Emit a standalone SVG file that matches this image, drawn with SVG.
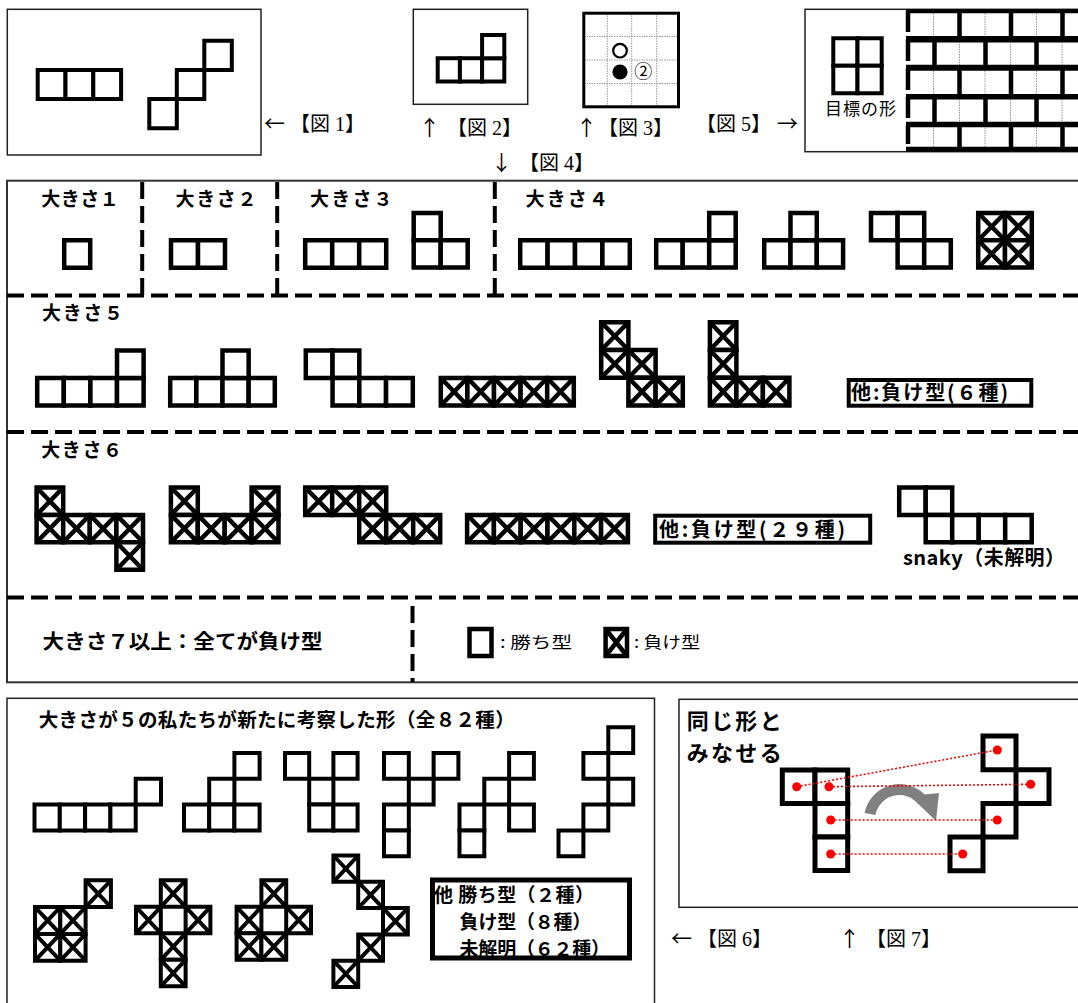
<svg xmlns="http://www.w3.org/2000/svg" width="1078" height="1003" viewBox="0 0 1078 1003">
<style>
text{font-family:"Noto Sans CJK JP","Noto Sans",sans-serif;fill:#000}
.b{font-weight:700}
.fig{font-family:"Liberation Serif","Noto Sans CJK JP",serif;font-size:20px}
.ar{font-family:"Noto Sans CJK JP",sans-serif;font-size:21px}
.cells{fill:#fff;stroke:#000;stroke-width:4.5}
.c4{stroke-width:4}
.c5{stroke-width:5}
.frame{fill:none;stroke:#222;stroke-width:1.5}
.dash{fill:none;stroke:#000;stroke-width:4;stroke-dasharray:17 7}
.dot{fill:none;stroke:#999;stroke-width:1;stroke-dasharray:1.5 1}
.bar{stroke:#000;fill:none}
.red{fill:none;stroke:#f00;stroke-width:1.6;stroke-dasharray:2 2}
</style>
<defs>
<rect id="w" width="1" height="1" vector-effect="non-scaling-stroke"/>
<g id="x"><rect width="1" height="1" vector-effect="non-scaling-stroke"/><path d="M0,0L1,1M1,0L0,1" vector-effect="non-scaling-stroke"/></g>
</defs>
<rect width="1078" height="1003" fill="#fff"/>

<g id="fig1">
<rect class="frame" x="7.3" y="9.3" width="253.7" height="145.7"/>
<g class="cells c4" transform="translate(37.7,70) scale(27.8,29)"><use href="#w"/><use href="#w" x="1"/><use href="#w" x="2"/></g>
<g class="cells c4" transform="translate(149.3,40.7) scale(27.5,29.2)"><use href="#w" x="2" y="0"/><use href="#w" x="1" y="1"/><use href="#w" x="0" y="2"/></g>
<text class="ar" x="264" y="131">←</text>
<text class="fig" x="290" y="131">【図 1】</text>
</g>

<g id="fig2">
<rect class="frame" x="413.3" y="9.3" width="114.4" height="95"/>
<g class="cells c4" transform="translate(437.7,35) scale(22.2,23.3)"><use href="#w" y="1"/><use href="#w" x="1" y="1"/><use href="#w" x="2" y="1"/><use href="#w" x="2" y="0"/></g>
<text class="ar" x="419" y="135">↑</text>
<text class="fig" x="447" y="135">【図 2】</text>
</g>

<g id="fig3">
<path class="dot" d="M607.3,13V107M631.7,13V107M656.7,13V107M584,36.5H678M584,60H678M584,83.5H678"/>
<rect x="583.8" y="13.2" width="94.7" height="93.6" fill="none" stroke="#000" stroke-width="3"/>
<circle cx="620" cy="50.7" r="6.8" fill="#fff" stroke="#000" stroke-width="2.2"/>
<circle cx="620" cy="72" r="7.6" fill="#000"/>
<text x="643.3" y="77.5" font-size="18" text-anchor="middle">②</text>
<text class="ar" x="576" y="135">↑</text>
<text class="fig" x="598" y="135">【図 3】</text>
</g>

<g id="fig5">
<rect class="frame" x="805" y="9.3" width="290" height="142.4"/>
<g class="cells c4" transform="translate(833.3,38.3) scale(24.2,27.5)"><use href="#w"/><use href="#w" x="1"/><use href="#w" y="1"/><use href="#w" x="1" y="1"/></g>
<text x="825" y="115" font-size="17" textLength="71">目標の形</text>
<path class="dot" d="M933.5,11V40M985,11V40M1036.5,11V40M959.5,39V68M1010.5,39V68M1062,39V68M933.5,68V97M985,68V97M1036.5,68V97M959.5,97V125M1010.5,97V125M1062,97V125M933.5,125V149M985,125V149M1036.5,125V149"/>
<path class="bar" stroke-width="4.5" d="M959.5,11V40M1011,11V40M1062.5,11V40M934.5,39V68M985.5,39V68M1036.5,39V68M959.5,68V97M1011,68V97M1062.5,68V97M934.5,97V125M985.5,97V125M1036.5,97V125M959.5,125V149M1011,125V149M1062.5,125V149"/>
<path class="bar" stroke-width="4.5" d="M908,11V32M908,39V61M908,68V90M908,97V118M908,125V144"/>
<path class="bar" stroke-width="4" d="M906,11.3H1078"/>
<path class="bar" stroke-width="6.5" d="M906,39.3H1078"/>
<path class="bar" stroke-width="6" d="M906,67.8H1078"/>
<path class="bar" stroke-width="5.5" d="M906,96.7H1078M906,124.5H1078"/>
<path class="bar" stroke-width="5" d="M906,149.2H1078"/>
<text class="fig" x="696" y="131">【図 5】</text>
<text class="ar" x="777" y="131">→</text>
</g>

<g id="fig4label">
<text class="ar" x="491" y="170">↓</text>
<text class="fig" x="519" y="170">【図 4】</text>
</g>

<g id="fig4">
<rect x="7" y="180.7" width="1090" height="501.6" fill="none" stroke="#333" stroke-width="2"/>
<path class="dash" d="M7,295.5H1078M7,432H1078M7,597.5H1078M142.2,182V295.5M277.2,182V295.5M494.8,182V295.5M412.5,606V682"/>
<g class="b" font-size="19">
<text x="41.3" y="206" textLength="77.5">大きさ１</text>
<text x="175.6" y="206" textLength="80.9">大きさ２</text>
<text x="310" y="206" textLength="82.6">大きさ３</text>
<text x="525.6" y="206" textLength="82.4">大きさ４</text>
<text x="42" y="320" textLength="81">大きさ５</text>
<text x="41.3" y="457" textLength="80.7">大きさ６</text>
</g>
<g class="cells">
<g transform="translate(64.2,240.2) scale(26,27.5)"><use href="#w"/></g>
<g transform="translate(171,240.2) scale(27,27.5)"><use href="#w"/><use href="#w" x="1"/></g>
<g transform="translate(305.2,240.2) scale(27,27.5)"><use href="#w"/><use href="#w" x="1"/><use href="#w" x="2"/></g>
<g transform="translate(413.7,213) scale(27,27.25)"><use href="#w"/><use href="#w" y="1"/><use href="#w" x="1" y="1"/></g>
<g transform="translate(520.2,240.2) scale(27.4,27.5)"><use href="#w"/><use href="#w" x="1"/><use href="#w" x="2"/><use href="#w" x="3"/></g>
<g transform="translate(656.2,213) scale(26.5,27.25)"><use href="#w" y="1"/><use href="#w" x="1" y="1"/><use href="#w" x="2" y="1"/><use href="#w" x="2"/></g>
<g transform="translate(764.2,213) scale(26.3,27.25)"><use href="#w" y="1"/><use href="#w" x="1" y="1"/><use href="#w" x="2" y="1"/><use href="#w" x="1"/></g>
<g transform="translate(871,213) scale(26.6,27.25)"><use href="#w"/><use href="#w" x="1"/><use href="#w" x="1" y="1"/><use href="#w" x="2" y="1"/></g>
<g transform="translate(978.2,213) scale(26.8,27.25)"><use href="#x"/><use href="#x" x="1"/><use href="#x" y="1"/><use href="#x" x="1" y="1"/></g>

<g transform="translate(37.2,350.5) scale(26.6,27.5)"><use href="#w" y="1"/><use href="#w" x="1" y="1"/><use href="#w" x="2" y="1"/><use href="#w" x="3" y="1"/><use href="#w" x="3"/></g>
<g transform="translate(170.2,350.5) scale(26.15,27.5)"><use href="#w" y="1"/><use href="#w" x="1" y="1"/><use href="#w" x="2" y="1"/><use href="#w" x="3" y="1"/><use href="#w" x="2"/></g>
<g transform="translate(305.8,350.5) scale(26.75,27.5)"><use href="#w"/><use href="#w" x="1"/><use href="#w" x="1" y="1"/><use href="#w" x="2" y="1"/><use href="#w" x="3" y="1"/></g>
<g transform="translate(440.8,378) scale(26.6,27.5)"><use href="#x"/><use href="#x" x="1"/><use href="#x" x="2"/><use href="#x" x="3"/><use href="#x" x="4"/></g>
<g transform="translate(601.2,322.2) scale(27.2,27.8)"><use href="#x"/><use href="#x" y="1"/><use href="#x" x="1" y="1"/><use href="#x" x="1" y="2"/><use href="#x" x="2" y="2"/></g>
<g transform="translate(709.9,322.2) scale(26.5,27.8)"><use href="#x"/><use href="#x" y="1"/><use href="#x" y="2"/><use href="#x" x="1" y="2"/><use href="#x" x="2" y="2"/></g>

<g transform="translate(36.6,487.5) scale(26.6,27.4)"><use href="#x"/><use href="#x" y="1"/><use href="#x" x="1" y="1"/><use href="#x" x="2" y="1"/><use href="#x" x="3" y="1"/><use href="#x" x="3" y="2"/></g>
<g transform="translate(170.9,487.5) scale(26.9,27.4)"><use href="#x"/><use href="#x" x="3"/><use href="#x" y="1"/><use href="#x" x="1" y="1"/><use href="#x" x="2" y="1"/><use href="#x" x="3" y="1"/></g>
<g transform="translate(305.2,487.5) scale(27,27.4)"><use href="#x"/><use href="#x" x="1"/><use href="#x" x="2"/><use href="#x" x="2" y="1"/><use href="#x" x="3" y="1"/><use href="#x" x="4" y="1"/></g>
<g transform="translate(467.1,514.9) scale(26.8,27.4)"><use href="#x"/><use href="#x" x="1"/><use href="#x" x="2"/><use href="#x" x="3"/><use href="#x" x="4"/><use href="#x" x="5"/></g>
<g transform="translate(899.2,487.5) scale(26.5,27.4)"><use href="#w"/><use href="#w" x="1"/><use href="#w" x="1" y="1"/><use href="#w" x="2" y="1"/><use href="#w" x="3" y="1"/><use href="#w" x="4" y="1"/></g>
</g>
<rect x="848.7" y="380" width="182.6" height="25.7" fill="none" stroke="#000" stroke-width="4"/>
<text class="b" x="851" y="400" font-size="20" textLength="157">他:負け型(６種)</text>
<rect x="655.2" y="515.7" width="215" height="27" fill="none" stroke="#000" stroke-width="4"/>
<text class="b" x="659" y="536.5" font-size="20" textLength="186">他:負け型(２９種)</text>
<text class="b" x="903" y="565" font-size="20" textLength="162">snaky（未解明）</text>
<text class="b" x="42.6" y="649" font-size="20" textLength="280" lengthAdjust="spacingAndGlyphs">大きさ７以上：全てが負け型</text>
<rect x="469.5" y="629" width="22" height="27" fill="#fff" stroke="#000" stroke-width="4.5"/>
<text x="500" y="648" font-size="16" textLength="72" lengthAdjust="spacingAndGlyphs">: 勝ち型</text>
<g class="cells" transform="translate(605.6,629) scale(21.4,27)"><use href="#x"/></g>
<text x="634" y="648" font-size="16" textLength="66" lengthAdjust="spacingAndGlyphs">: 負け型</text>
</g>

<g id="fig6">
<rect class="frame" x="7" y="698.3" width="647.5" height="320"/>
<text class="b" x="38.7" y="726.5" font-size="19.5" textLength="476">大きさが５の私たちが新たに考察した形（全８２種）</text>
<g class="cells c4">
<g transform="translate(34.5,753) scale(25.3,25.8)"><use href="#w" y="2"/><use href="#w" x="1" y="2"/><use href="#w" x="2" y="2"/><use href="#w" x="3" y="2"/><use href="#w" x="4" y="1"/></g>
<g transform="translate(184,753) scale(25.2,25.8)"><use href="#w" x="2"/><use href="#w" x="1" y="1"/><use href="#w" y="2"/><use href="#w" x="1" y="2"/><use href="#w" x="2" y="2"/></g>
<g transform="translate(285,753) scale(24.2,25.8)"><use href="#w"/><use href="#w" x="2"/><use href="#w" x="1" y="1"/><use href="#w" x="1" y="2"/><use href="#w" x="2" y="2"/></g>
<g transform="translate(384,753) scale(24.8,25.8)"><use href="#w"/><use href="#w" x="2"/><use href="#w" x="1" y="1"/><use href="#w" y="2"/><use href="#w" y="3"/></g>
<g transform="translate(459.5,753) scale(24.8,25.8)"><use href="#w" x="2"/><use href="#w" x="1" y="1"/><use href="#w" x="2" y="2"/><use href="#w" y="2"/><use href="#w" y="3"/></g>
<g transform="translate(558.5,727.2) scale(24.9,25.8)"><use href="#w" x="2"/><use href="#w" x="1" y="1"/><use href="#w" x="2" y="2"/><use href="#w" x="1" y="3"/><use href="#w" y="4"/></g>
<g transform="translate(35,880.3) scale(25.3,26.8)"><use href="#x" x="2"/><use href="#x" y="1"/><use href="#x" x="1" y="1"/><use href="#x" y="2"/><use href="#x" x="1" y="2"/></g>
<g transform="translate(136,880.3) scale(24.8,26.5)"><use href="#x" x="1"/><use href="#x" y="1"/><use href="#x" x="2" y="1"/><use href="#x" x="1" y="2"/><use href="#x" x="1" y="3"/></g>
<g transform="translate(236.6,880.3) scale(24.8,26.5)"><use href="#x" x="1"/><use href="#x" y="1"/><use href="#x" x="2" y="1"/><use href="#x" y="2"/><use href="#x" x="1" y="2"/></g>
<g transform="translate(333.4,855.5) scale(24.8,26.3)"><use href="#x"/><use href="#x" x="1" y="1"/><use href="#x" x="2" y="2"/><use href="#x" x="1" y="3"/><use href="#x" y="4"/></g>
</g>
<rect x="432.5" y="880" width="197" height="78" fill="none" stroke="#000" stroke-width="5"/>
<g class="b" font-size="19">
<text x="434" y="901.5" textLength="160">他 勝ち型（２種）</text>
<text x="459.6" y="928.5" textLength="131.7">負け型（８種）</text>
<text x="459.6" y="955.5" textLength="150.4">未解明（６２種）</text>
</g>
<text class="ar" x="671" y="946">←</text>
<text class="fig" x="697" y="946">【図 6】</text>
</g>

<g id="fig7">
<rect class="frame" x="679" y="699.3" width="420" height="208"/>
<g class="b" font-size="22">
<text x="686.7" y="729" textLength="95">同じ形と</text>
<text x="686.7" y="761" textLength="95">みなせる</text>
</g>
<g class="cells c5">
<g transform="translate(782.3,770) scale(32.7,33.5)"><use href="#w"/><use href="#w" x="1"/><use href="#w" x="1" y="1"/><use href="#w" x="1" y="2"/></g>
<g transform="translate(950,736) scale(33,33.7)"><use href="#w" x="1"/><use href="#w" x="2" y="1"/><use href="#w" x="1" y="2"/><use href="#w" y="3"/></g>
</g>
<path d="M870,814 A30,30 0 0 1 923,801" fill="none" stroke="#808080" stroke-width="11"/>
<polygon points="910,796 939,793 936,821" fill="#808080"/>
<g fill="#f00">
<circle cx="796.7" cy="786.7" r="4.5"/><circle cx="829" cy="786.7" r="4.5"/><circle cx="830.7" cy="820" r="4.5"/><circle cx="830.7" cy="854" r="4.5"/>
<circle cx="997.3" cy="750" r="4.5"/><circle cx="1030.7" cy="784.3" r="4.5"/><circle cx="997.3" cy="820" r="4.5"/><circle cx="962.7" cy="854" r="4.5"/>
</g>
<text class="ar" x="839" y="946">↑</text>
<text class="fig" x="866" y="946">【図 7】</text>
</g>

<g id="connectors">
<path class="red" d="M796.7,786.7L997.3,750M829,786.7L1030.7,784.3M830.7,820L997.3,820M830.7,854L962.7,854"/>
</g>
</svg>
